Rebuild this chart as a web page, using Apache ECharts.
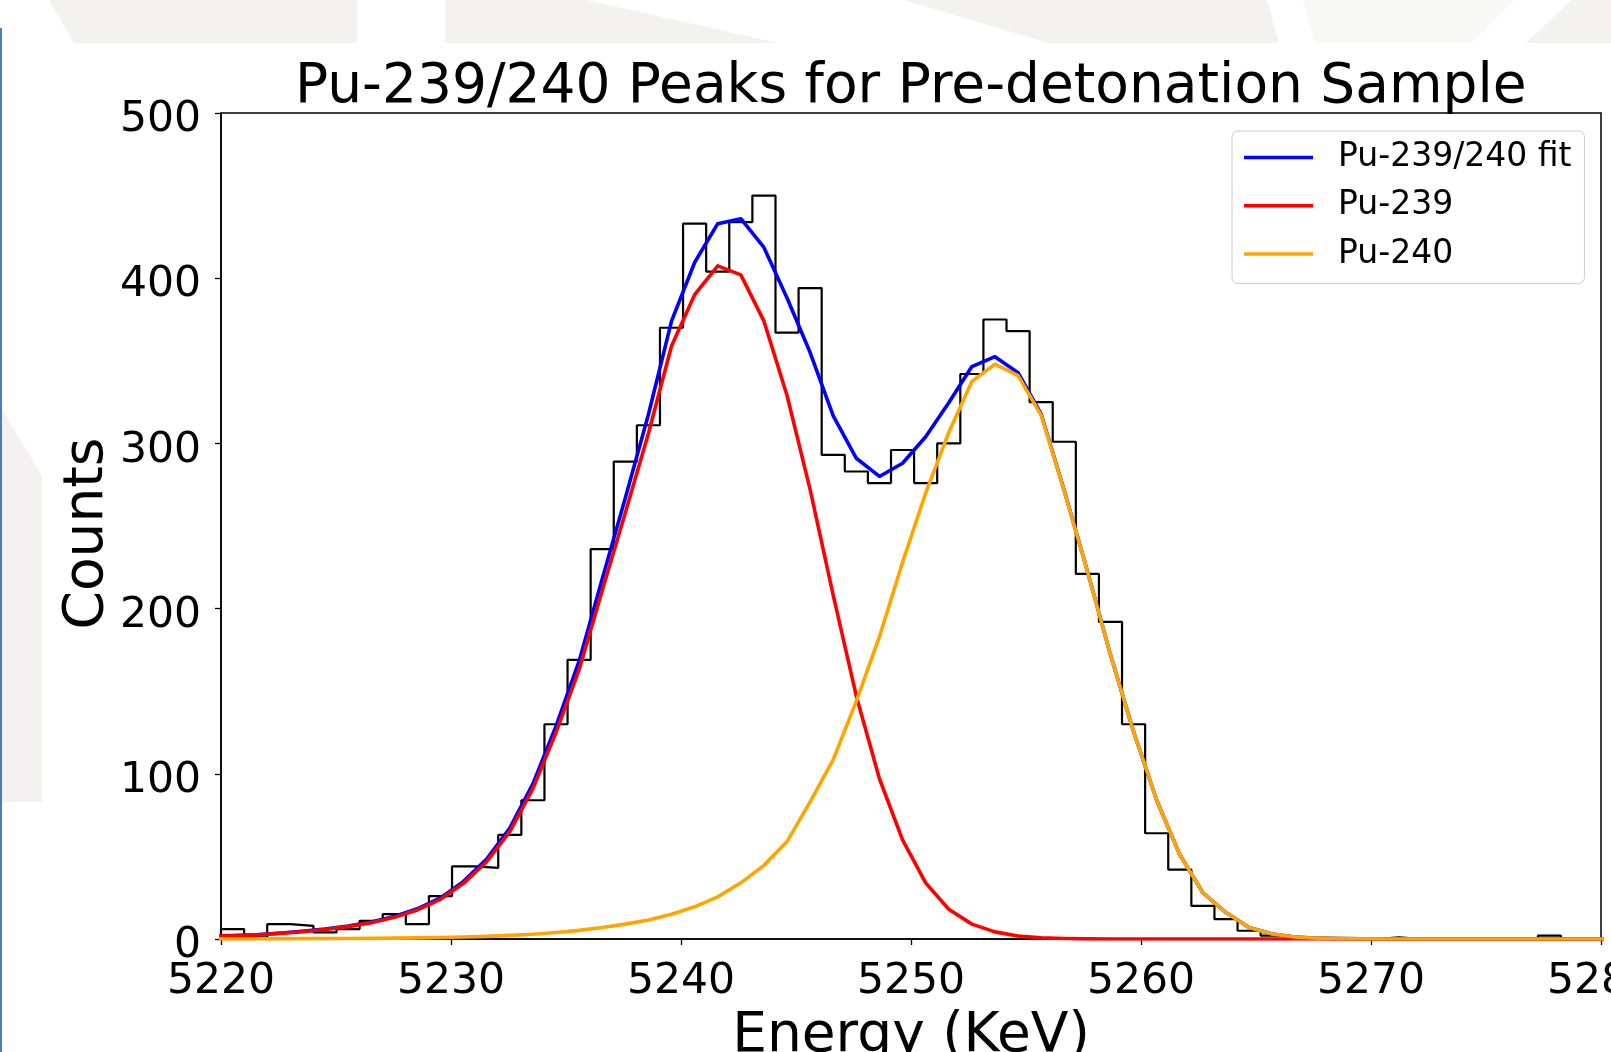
<!DOCTYPE html>
<html>
<head>
<meta charset="utf-8">
<title>Pu-239/240 Peaks for Pre-detonation Sample</title>
<script src="https://cdn.jsdelivr.net/npm/echarts@6/dist/echarts.min.js"></script>
<style>
  html, body { margin: 0; padding: 0; background: #fff; }
  #chart { width: 1611px; height: 1052px; }
</style>
</head>
<body>
<div id="chart"></div>
<script>
// histogram bins: left edge of first bin and bin width (KeV)
var binStart = 5220;
var binWidth = 1.0045;

// counts per bin, 60 bins
var counts = [
  6, 1, 9, 8, 4, 6, 11, 15, 9, 26,
  44, 43, 63, 84, 130, 169, 236, 289, 311, 370,
  433, 404, 434, 450, 367, 394, 293, 283, 276, 296,
  276, 300, 342, 375, 368, 325, 301, 221, 192, 130,
  64, 42, 20, 12, 5, 2, 0, 0, 0, 0,
  1, 0, 0, 0, 0, 0, 0, 2, 0, 0
];

// fit curves sampled at bin centres, from one bin before the first to one after the last
var fitTotal = [
  1.7,
  2.1, 2.5, 3.5, 4.6, 6.0, 7.8, 10.3, 13.6, 18.3, 24.9,
  34.9, 48.4, 67.2, 93.9, 128.9, 168.2, 218, 267, 317.5, 374,
  409.5, 433, 436, 418.6, 388, 355, 316.6, 291, 280, 288,
  304, 324.6, 346.5, 352.5, 342.8, 317.7, 271.3, 222.7, 172, 125.5,
  84, 51, 28, 16, 7, 3, 1.2, 0.5, 0.2, 0.1,
  0, 0, 0, 0, 0, 0, 0, 0, 0, 0,
  0
];
var fitPu239 = [
  1.6,
  2.0, 2.4, 3.4, 4.4, 5.8, 7.5, 9.9, 13.1, 17.6, 24,
  33.7, 46.8, 65, 91, 125, 163, 211, 258, 306, 359,
  390, 407.5, 402, 374, 329, 272, 208, 147, 97, 60,
  34, 18, 9, 4.3, 1.8, 0.7, 0.3, 0.1, 0, 0,
  0, 0, 0, 0, 0, 0, 0, 0, 0, 0,
  0, 0, 0, 0, 0, 0, 0, 0, 0, 0,
  0
];
var fitPu240 = [
  0.1,
  0.1, 0.1, 0.1, 0.2, 0.2, 0.3, 0.4, 0.5, 0.7, 0.9,
  1.2, 1.6, 2.2, 2.9, 3.9, 5.2, 7, 9, 11.5, 15,
  19.5, 25.5, 34, 44.6, 59, 83, 108.6, 144, 183, 228,
  270, 306.6, 337.5, 348, 341, 317, 271, 222.6, 172, 125.5,
  84, 51, 28, 16, 7, 3, 1.2, 0.5, 0.2, 0.1,
  0, 0, 0, 0, 0, 0, 0, 0, 0, 0,
  0
];

var xRange = [5220, 5280], xStep = 10;
var yRange = [0, 500], yStep = 100;

var seriesNames = ['Pu-239/240 fit', 'Pu-239', 'Pu-240'];
var seriesColors = ['#0000ff', '#ff0000', '#ffa500'];

var font = 'DejaVu Sans';

// step outline like a matplotlib 'step' histogram
function histOutline() {
  var pts = [[binStart, 0]];
  counts.forEach(function (c, i) {
    pts.push([binStart + i * binWidth, c]);
    pts.push([binStart + (i + 1) * binWidth, c]);
  });
  pts.push([binStart + counts.length * binWidth, 0]);
  return pts;
}

function fitPoints(vals) {
  return vals.map(function (v, k) {
    return [binStart + (k - 0.5) * binWidth, v];
  });
}

function fitSeries(name, vals, color) {
  return {
    name: name,
    type: 'line',
    data: fitPoints(vals),
    symbol: 'none',
    showSymbol: false,
    clip: true,
    itemStyle: { color: color },
    lineStyle: { color: color, width: 3.6, join: 'round' }
  };
}

function plainNumber(v) {
  return String(v);
}

var bgFill = '#f3f2f0';

var chart = echarts.init(document.getElementById('chart'));
chart.setOption({
  animation: false,
  backgroundColor: '#ffffff',
  graphic: [
    { type: 'polygon', silent: true, z: -10, shape: { points: [[49, 0], [357, 0], [357, 43], [74, 43]] }, style: { fill: bgFill } },
    { type: 'polygon', silent: true, z: -10, shape: { points: [[445, 0], [586, 0], [778, 43], [445, 43]] }, style: { fill: bgFill } },
    { type: 'polygon', silent: true, z: -10, shape: { points: [[904, 0], [1267, 0], [1279, 43], [1048, 43]] }, style: { fill: bgFill } },
    { type: 'polygon', silent: true, z: -10, shape: { points: [[1303, 0], [1515, 0], [1471, 43], [1315, 43]] }, style: { fill: '#f8f8f7' } },
    { type: 'polygon', silent: true, z: -10, shape: { points: [[1572, 0], [1611, 0], [1611, 43], [1526, 43]] }, style: { fill: bgFill } },
    { type: 'polygon', silent: true, z: -10, shape: { points: [[2, 409], [42, 476], [42, 802], [2, 802]] }, style: { fill: bgFill } },
    { type: 'rect', silent: true, z: -5, shape: { x: 0, y: 28, width: 2, height: 1024 }, style: { fill: '#4a7ebb' } },
    // y axis title, placed by hand so it sits where matplotlib put it
    {
      type: 'text',
      silent: true,
      x: 87.5,
      y: 533.5,
      rotation: Math.PI / 2,
      style: { text: 'Counts', fontFamily: font, fontSize: 55, fill: '#000', align: 'center', verticalAlign: 'middle' }
    }
  ],
  title: {
    text: 'Pu-239/240 Peaks for Pre-detonation Sample',
    left: 295,
    top: 60,
    padding: 0,
    textStyle: { fontFamily: font, fontSize: 55, fontWeight: 'normal', color: '#000' }
  },
  legend: {
    data: seriesNames,
    orient: 'vertical',
    left: 1232,
    top: 131,
    padding: [10, 13, 13, 12],
    itemGap: 15.3,
    itemWidth: 69,
    itemHeight: 3.5,
    icon: 'rect',
    backgroundColor: 'rgba(255,255,255,0.8)',
    borderColor: '#cccccc',
    borderWidth: 1,
    borderRadius: 6,
    textStyle: { fontFamily: font, fontSize: 33, color: '#000', padding: [0, 0, 0, 20] }
  },
  grid: {
    left: 221,
    right: 10,
    top: 113,
    bottom: 113,
    containLabel: false,
    outerBoundsMode: 'none',
    show: true,
    borderColor: '#000',
    borderWidth: 1.5,
    backgroundColor: 'transparent'
  },
  xAxis: {
    type: 'value',
    min: xRange[0],
    max: xRange[1],
    interval: xStep,
    name: 'Energy (KeV)',
    nameLocation: 'middle',
    nameGap: 70,
    nameTextStyle: { fontFamily: font, fontSize: 55, color: '#000' },
    axisLine: { show: true, lineStyle: { color: '#000', width: 1.5 } },
    axisTick: { show: true, inside: false, length: 6, lineStyle: { color: '#000', width: 1.3 } },
    axisLabel: { fontFamily: font, fontSize: 42.5, color: '#000', margin: 21, formatter: plainNumber },
    splitLine: { show: false }
  },
  yAxis: {
    type: 'value',
    min: yRange[0],
    max: yRange[1],
    interval: yStep,
    axisLine: { show: true, lineStyle: { color: '#000', width: 1.5 } },
    axisTick: { show: true, inside: false, length: 6, lineStyle: { color: '#000', width: 1.3 } },
    // matplotlib sits these labels a little below their ticks
    axisLabel: {
      fontFamily: font, fontSize: 42.5, color: '#000', margin: 20,
      verticalAlign: 'top', lineHeight: 14.4, formatter: plainNumber
    },
    splitLine: { show: false }
  },
  series: [
    {
      name: 'histogram',
      type: 'line',
      data: histOutline(),
      symbol: 'none',
      showSymbol: false,
      clip: true,
      lineStyle: { color: '#000', width: 2.2 },
      itemStyle: { color: '#000' }
    },
    fitSeries(seriesNames[0], fitTotal, seriesColors[0]),
    fitSeries(seriesNames[1], fitPu239, seriesColors[1]),
    fitSeries(seriesNames[2], fitPu240, seriesColors[2])
  ]
});
</script>
</body>
</html>
